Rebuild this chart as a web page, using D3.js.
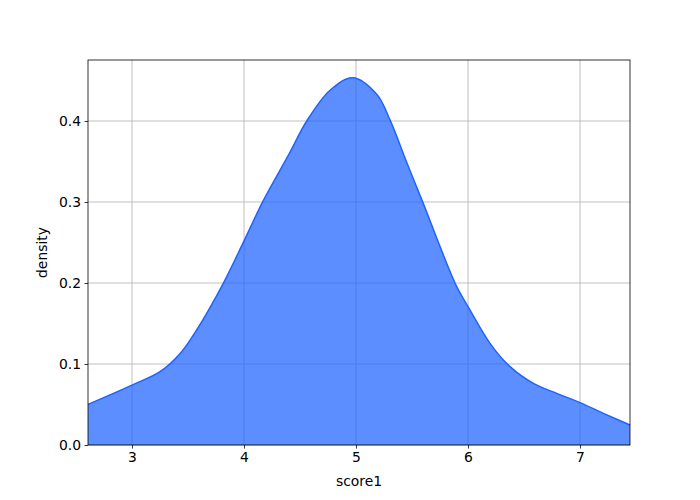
<!DOCTYPE html>
<html>
<head>
<meta charset="utf-8">
<script src="https://cdn.jsdelivr.net/npm/d3@7"></script>
<style>
  body { margin: 0; background: #fff; }
  text { font-family: "DejaVu Sans", sans-serif; }
  .grid line { stroke: #b0b0b0; stroke-width: 0.8; }
</style>
</head>
<body>
<svg id="chart" width="700" height="500"></svg>
<script>
// density curve
const scores = [2.607, 3.0, 3.25, 3.43, 3.577, 3.815, 4.0, 4.173, 4.405, 4.56, 4.768, 4.97,
  5.185, 5.304, 5.452, 5.601, 5.75, 5.899, 6.0, 6.196, 6.375, 6.583, 6.792, 7.0, 7.208, 7.446];
const density = [0.0502, 0.074, 0.0905, 0.113, 0.142, 0.1996, 0.252, 0.302, 0.360, 0.400, 0.438, 0.4535,
  0.433, 0.401, 0.349, 0.298, 0.245, 0.1955, 0.1708, 0.1255, 0.0967, 0.0761, 0.0638, 0.0523, 0.0391, 0.0247];
const xTicks = [3, 4, 5, 6, 7];
const yTicks = [0.0, 0.1, 0.2, 0.3, 0.4];

const svg = d3.select("#chart");
const mLeft = 88, mRight = 630, mTop = 60, mBottom = 445;

const x = d3.scaleLinear().domain([2.607, 7.446]).range([mLeft, mRight]);
const y = d3.scaleLinear().domain([0, 0.4753]).range([mBottom, mTop]);

const pts = scores.map((s, i) => [s, density[i]]);

// grid first, fill goes on top (alpha lets it show through)
const grid = svg.append("g").attr("class", "grid");
grid.selectAll(".gx").data(xTicks).join("line").attr("class", "gx")
  .attr("x1", d => x(d)).attr("x2", d => x(d))
  .attr("y1", mTop).attr("y2", mBottom);
grid.selectAll(".gy").data(yTicks).join("line").attr("class", "gy")
  .attr("x1", mLeft).attr("x2", mRight)
  .attr("y1", d => y(d)).attr("y2", d => y(d));

const curve = d3.curveCatmullRom.alpha(0.5);
const area = d3.area()
  .curve(curve)
  .x(d => x(d[0])).y0(y(0)).y1(d => y(d[1]));
const line = d3.line()
  .curve(curve)
  .x(d => x(d[0])).y(d => y(d[1]));

svg.append("path").attr("d", area(pts))
  .attr("fill", "#1f63ff").attr("fill-opacity", 0.72);
svg.append("path").attr("d", line(pts))
  .attr("fill", "none").attr("stroke", "#1f63ff").attr("stroke-width", 1.5);

// axes
const xAxis = d3.axisBottom(x).tickValues(xTicks).tickSize(3.5).tickPadding(3.5).tickFormat(d3.format("d"));
const yAxis = d3.axisLeft(y).tickValues(yTicks).tickSize(3.5).tickPadding(3.5).tickFormat(d3.format(".1f"));

const gx = svg.append("g").attr("transform", `translate(0,${mBottom})`).call(xAxis);
const gy = svg.append("g").attr("transform", `translate(${mLeft},0)`).call(yAxis);
[gx, gy].forEach(g => {
  g.select(".domain").remove();
  g.selectAll("text").attr("font-size", 13.9).attr("fill", "#000").attr("font-family", "DejaVu Sans");
  g.selectAll("line").attr("stroke", "#000").attr("stroke-width", 0.8);
});

// frame
svg.append("rect").attr("x", mLeft).attr("y", mTop)
  .attr("width", mRight - mLeft).attr("height", mBottom - mTop)
  .attr("fill", "none").attr("stroke", "#000").attr("stroke-width", 0.8);

svg.append("text").attr("x", (mLeft + mRight) / 2).attr("y", 486)
  .attr("text-anchor", "middle").attr("font-size", 13.9).text("score1");
svg.append("text").attr("transform", `translate(47,${(mTop + mBottom) / 2}) rotate(-90)`)
  .attr("text-anchor", "middle").attr("font-size", 13.9).text("density");
</script>
</body>
</html>
